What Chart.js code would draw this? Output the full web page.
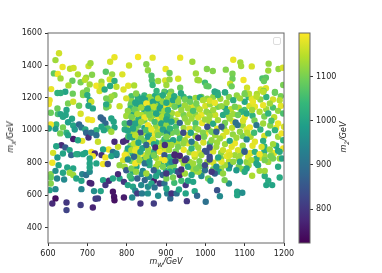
<!DOCTYPE html>
<html lang="en">
<head>
  <meta charset="UTF-8" />
  <title>Scatter mW mX</title>
  <style>
    body { margin: 0; background: #fff; font-family: 'DejaVu Sans', sans-serif; color: #222; }
    #wrap { position: relative; width: 382px; height: 273px; overflow: hidden; }
    canvas { position: absolute; left: 0; top: 0; }
    .lab { position: absolute; font-size: 8px; font-style: italic; line-height: 10px; white-space: nowrap; }
    .lab sub { font-size: 6px; line-height: 0; }
    #xlab { left: 166px; top: 257px; transform: translateX(-50%); }
    #ylab { left: 11px; top: 137px; transform: translate(-50%, -50%) rotate(-90deg); }
    #clab { left: 344px; top: 137px; transform: translate(-50%, -50%) rotate(-90deg); }
    #legendBox { position: absolute; left: 273px; top: 37px; width: 6px; height: 6px; border: 1px solid #ddd; border-radius: 2px; background: #fff; }
  </style>
</head>
<body>
  <div id="wrap">
    <canvas id="plot" width="382" height="273"></canvas>
    <canvas id="bar" width="382" height="273"></canvas>
    <div id="legendBox"></div>
    <div class="lab" id="xlab">m<sub>W</sub>/GeV</div>
    <div class="lab" id="ylab">m<sub>X</sub>/GeV</div>
    <div class="lab" id="clab">m<sub>2</sub>/GeV</div>
  </div>
  <script src="https://cdn.jsdelivr.net/npm/chart.js"></script>
  <script>
    const xTicks = [600, 700, 800, 900, 1000, 1100, 1200];
    const yTicks = [400, 600, 800, 1000, 1200, 1400, 1600];
    const cTicks = [800, 900, 1000, 1100];

    // one line per region
    const mW = [
      812,828,845,858,872,885,812,828,848,862,875,888,905,810,826,842,858,875,888,905,
      810,825,845,862,878,892,908,805,818,838,852,868,882,898,815,830,845,862,880,893,905,
      800,815,830,845,858,875,888,905,795,812,825,845,858,872,888,905,815,830,845,860,875,890,905,810,825,840,855,870,885,900,
      800,815,828,845,860,875,890,905,812,828,842,858,875,888,905,825,815,838,855,880,900,915,
      915,930,945,960,975,990,1005,1020,1038,1060,1080,1110,1118,1140,1155,1172,1192,
      915,932,948,965,980,1000,1012,1032,1050,1065,1085,1100,1112,1155,1172,1192,
      915,930,945,960,975,990,1010,1025,1045,1060,1100,1120,1150,1175,
      912,925,955,975,992,1010,1020,1050,1070,1095,1125,1165,1180,
      925,945,960,975,1008,1030,1048,1068,1105,1140,
      915,935,955,975,1000,1025,1045,1070,1095,1115,1150,1185,
      905,928,955,975,995,1012,1030,1050,1075,1095,1120,1150,1180,
      908,925,945,960,985,1020,1040,1060,1090,1115,1150,1175,
      910,925,940,960,985,1005,1020,1040,1060,1085,1105,1140,1160,
      905,920,945,965,985,1000,1020,1040,1060,1085,1110,
      910,925,970,990,1035,1095,
      628,619,637,656,665,703,708,758,769,829,866,806,850,854,899,615,625,632,676,697,712,747,763,789,757,769,662,683,694,706,652,608,723,736,736,731,744,758,774,792,804,819,863,864,866,880,898,901,876,896,644,632,624,663,689,699,
      936,967,909,931,909,976,1004,1019,1052,1071,1089,1091,1118,1161,1160,1186,1197,1069,1069,1097,980,984,999,1003,1008,1063,1067,1145,1154,1149,1198,936,1106,1141,1154,1148,1177,909,938,1024,1031,1050,1101,1111,1131,913,
      689,700,706,710,703,714,683,679,604,602,607,624,647,651,664,625,632,638,645,661,651,664,621,619,607,602,638,631,647,668,679,685,695,697,703,687,664,676,651,702,712,723,734,740,746,761,767,769,752,761,736,742,710,727,723,754,748,782,757,769,761,748,799,748,
      634,621,644,613,638,624,655,659,676,695,710,719,714,754,740,778,765,774,799,803,791,799,769,804,
      824,841,822,833,850,867,880,892,892,901,803,820,837,854,869,884,896,799,812,827,846,858,875,890,903,795,808,822,837,854,871,888,901,803,816,835,850,863,878,892,903,808,822,837,854,867,880,896,819,830,850,869,873,888,903,812,822,835,854,869,884,896,819,850,803,
      910,921,986,1024,1050,1032,1100,1130,1147,1177,1189,1164,1100,1088,1071,1054,1121,1126,1147,918,901,931,948,961,977,994,1011,1024,1041,1075,1092,1105,1185,1160,1198,1138,1119,
      905,922,939,956,969,986,1003,1020,1054,1071,1083,901,914,935,948,965,982,999,1011,1032,1041,1005,1077,1062,1096,1113,1130,1147,1168,1185,1200,
      910,927,944,963,982,994,1016,1028,1054,1082,1088,1107,1124,1160,1177,1194,901,918,935,948,965,982,997,1016,1037,1062,1079,1105,1126,1147,1172,1198,
      897,914,931,944,965,982,999,1011,1028,1045,1067,1083,1099,1126,1143,1164,1185,1198,922,935,952,973,990,1011,1032,1054,1075,1109,1130,1151,1168,1189,
      611,619,647,647,683,714,727,721,765,768,769,793,835,869,
      607,607,604,619,638,623,641,649,664,655,664,672,685,687,697,706,706,710,685,717,734,740,746,755,765,782,778,793,803,816,812,822,827,839,814,854,880,903,837,854,869,884,896,827,846,858,875,892,901,
      611,627,619,607,672,689,706,706,706,723,740,752,736,746,761,774,795,791,803,782,795,799,812,822,833,850,846,858,869,880,896,892,869,841,824,850,808,863,871,
      901,911,914,927,933,950,950,953,973,979,1001,1030,1037,1081,1081,1094,1060,956,969,921,939,965,990,1007,1013,1049,1119,1151,1155,1160,1170,1189,1185,1134,1151,1138,1105,1079,1062,1100,1045,1024,1016,999,982,935,931,918,910,901,948,977,956,939,1028,1050,1071,1088,1117,1130,1151,1172,1195,914,924,948,969,999,1041,1062,1100,1138,1166,1189,1011,1003,922,972,1033
    ];
    const mX = [
      1210,1208,1215,1205,1212,1210,1180,1185,1185,1190,1170,1190,1195,1158,1150,1160,1162,1150,1155,1160,
      1135,1125,1122,1118,1120,1110,1105,1105,1100,1095,1105,1095,1085,1075,1068,1070,1060,1072,1065,1060,1050,
      1030,1025,1030,1015,1018,1025,1020,1012,1005,990,995,985,978,975,985,970,955,945,935,930,925,925,930,905,900,890,885,870,885,880,
      865,855,845,845,840,830,825,825,810,800,815,785,775,790,790,775,745,730,715,740,750,765,
      1185,1195,1205,1195,1200,1205,1195,1205,1195,1205,1215,1205,1195,1190,1205,1190,1210,
      1160,1155,1155,1150,1140,1150,1160,1145,1140,1130,1140,1125,1150,1130,1140,1150,
      1105,1100,1095,1100,1098,1095,1105,1095,1095,1090,1080,1090,1085,1080,
      1075,1060,1050,1045,1045,1055,1040,1045,1055,1030,1060,1030,1015,
      1020,1015,1010,1015,1005,1010,1010,1015,1005,1005,
      985,975,970,965,975,970,965,975,965,960,965,960,
      925,925,920,915,925,920,925,915,920,905,905,900,905,
      880,870,880,865,860,870,860,865,855,860,870,860,
      835,825,820,805,810,805,800,825,810,825,805,830,805,
      790,785,795,770,775,770,760,765,765,775,785,
      765,750,745,735,745,760,
      1475,1433,1390,1380,1384,1396,1413,1423,1450,1452,1448,1400,1407,1370,1378,1351,1347,1320,1345,1324,1343,1361,1345,1345,1314,1304,1306,1296,1312,1283,1277,1254,1275,1300,1275,1242,1252,1273,1269,1252,1275,1277,1337,1308,1279,1304,1308,1279,1242,1238,1238,1230,1230,1226,1232,1248,
      1448,1423,1353,1318,1314,1351,1378,1366,1374,1435,1419,1396,1394,1411,1368,1378,1386,1349,1318,1310,1310,1308,1294,1273,1271,1287,1271,1320,1324,1304,1279,1263,1263,1252,1259,1242,1236,1232,1228,1238,1232,1234,1228,1226,1224,1238,
      1217,1217,1186,1176,1151,1135,1102,1151,1186,1162,1108,1135,1125,1166,1176,1100,1100,1083,1094,1071,1050,1030,1036,1009,1036,1011,1018,981,985,1005,1036,1018,1005,985,956,935,946,939,970,1067,1063,1001,1079,1067,1042,1073,1053,1018,1011,991,1022,1001,985,929,970,1149,1141,1149,1186,1217,1207,1197,1197,1160,
      908,902,894,861,857,832,878,847,853,861,867,857,841,882,882,898,867,847,847,888,929,939,929,960,
      1227,1197,1170,1166,1166,1176,1197,1217,1176,1145,1120,1129,1141,1135,1145,1135,1120,1088,1083,1100,1079,1094,1104,1083,1088,1042,1046,1042,1052,1032,1052,1042,1032,997,1011,985,1001,1005,991,1005,985,960,970,950,960,944,970,944,919,923,909,915,894,898,909,878,874,867,861,847,867,847,837,826,826,
      1217,1211,1203,1238,1234,1217,1223,1207,1238,1232,1186,1166,1176,1197,1186,1170,1176,1145,1155,1186,1170,1176,1190,1176,1166,1186,1182,1170,1149,1145,1114,1104,1120,1104,1104,1114,1125,
      1125,1145,1125,1135,1120,1129,1114,1125,1114,1100,1094,1067,1053,1046,1073,1073,1079,1067,1088,1063,1022,1022,1048,1073,1059,1018,1032,1042,1059,1042,1022,
      1011,991,985,985,1005,985,991,991,991,1032,991,985,985,981,1001,981,960,939,950,939,929,954,960,939,950,935,954,944,929,935,915,939,
      909,909,898,919,888,894,872,894,898,878,898,878,874,867,898,882,874,888,847,843,826,837,847,837,826,841,847,837,826,841,847,826,
      549,580,555,508,539,524,580,578,621,590,569,586,549,549,
      730,672,631,637,738,703,697,771,765,738,724,703,689,730,724,744,676,672,637,625,625,693,662,689,703,703,730,682,662,652,703,627,611,611,586,611,596,611,662,652,689,672,672,703,693,713,718,724,703,
      800,785,750,709,853,853,826,796,771,796,792,792,847,833,841,857,847,816,820,785,775,754,765,796,816,833,796,806,847,796,816,775,754,750,744,734,718,672,648,
      641,580,611,611,635,662,611,563,625,596,559,631,594,621,600,615,672,689,682,676,689,724,718,703,689,693,720,718,662,689,662,709,775,785,750,750,765,754,785,744,734,734,744,754,744,724,744,709,744,734,734,765,775,759,775,785,806,806,816,796,816,826,826,806,810,816,796,785,806,847,868,853,841,868,820,868,851,853,833
    ];
    const m2 = [
      1060,1010,1030,1130,1010,1040,1110,1020,1000,1120,1010,1030,1130,1090,1000,1010,1140,1110,1010,1020,
      1040,1110,1020,1090,1110,1130,1160,1100,1010,1140,1100,1130,1010,1100,1130,1020,1090,1120,1185,1120,1020,
      1130,1100,1090,1000,1140,1120,1170,1100,1010,1130,1100,1130,1020,1185,1090,1130,1000,1130,1090,1185,1040,1120,1130,1100,1180,1000,1130,1020,1100,1170,
      1120,1020,1130,1180,1000,1130,1190,1100,1090,1190,1000,1010,1130,1000,1040,1000,1010,950,960,1000,1000,1030,
      1100,1130,1040,1010,1130,1090,1120,1120,1130,1110,1120,1030,1180,1120,1030,1170,1100,
      1140,1010,1130,1170,1120,1170,1130,1100,1000,1150,1140,1060,1170,1130,1060,1180,
      1130,1160,1100,1140,1120,1185,1100,1160,1010,1130,1185,1030,1100,1150,
      1100,1130,1130,1060,1185,1130,1010,1100,1185,1130,1100,1110,1180,
      1060,1130,1180,1100,1130,1170,1090,1150,1180,1030,
      1100,1130,1170,1130,1190,1130,1170,1120,1100,1140,1170,1130,
      1020,1140,1180,1130,1170,1060,1130,1130,1185,1130,1180,1030,1010,
      1130,1100,1185,1130,1170,1170,1120,1185,1130,1180,1020,1185,
      1030,1090,1130,1130,1100,1130,1170,1100,1150,1130,1120,1170,1130,
      1010,1100,1130,1130,1090,1130,1100,1130,1000,1100,1130,
      1100,1000,1130,1100,1000,1110,
      1165,1130,1185,1150,1165,1160,1130,1170,1185,1195,1180,1165,1110,1120,1185,1080,1190,1130,1140,1130,1110,1070,1120,1175,1170,1020,1085,1100,1150,1130,1140,1185,1190,1130,1165,1170,1010,1010,1150,1175,1180,1140,1060,1060,1040,1130,1170,1130,1040,1070,1000,1020,1030,1090,1110,1100,
      1185,1130,1090,1170,1120,1130,1110,1110,1110,1185,1130,1130,1170,1120,1130,1120,1170,1100,1090,1190,1130,1130,1050,1080,1075,1160,1090,1060,1075,1085,1100,1090,1165,1170,1175,1100,1090,1020,1010,1010,1020,1010,1100,1150,1140,1100,
      1110,1015,1000,1160,1000,1000,1170,1090,1185,1190,1090,1090,1000,1100,1165,1060,1000,1000,1000,1000,990,1000,1040,980,1190,1000,1100,1100,1030,980,880,910,1010,880,790,1180,760,1000,1000,1185,1190,1030,880,870,880,1000,1000,1000,1060,1130,1000,1000,900,1160,900,1140,1090,1160,1100,1110,1130,1100,1170,1010,
      780,1000,860,1170,1000,980,1000,880,990,1000,1190,780,1190,1190,1000,1160,900,900,1175,1000,780,780,780,1060,
      1110,1000,1000,1000,1190,1000,1140,1010,1120,1190,1120,1090,1130,1000,1150,1000,1130,1130,1100,1140,1185,1100,1000,1140,1030,1060,880,1000,1130,1190,1060,1000,1120,1000,1000,840,1060,1185,1140,1000,960,1000,1150,1100,980,1160,1100,1050,1150,1000,880,1000,780,1150,1130,1140,1180,1000,1120,1000,1190,850,880,1040,1130,
      1130,1010,1010,1010,1010,1020,1100,1150,1150,1090,1150,1130,1010,1130,1020,1130,1185,1180,1185,1000,1010,1120,1100,1090,1100,1140,1170,1185,1120,1100,1030,1010,1120,1030,1060,1140,1130,
      1030,1090,1120,1130,1060,1150,1120,1130,1020,1130,1090,1000,1000,880,1120,1130,1170,1130,1130,1130,860,840,900,1130,1170,1185,910,1130,1060,1185,1170,
      1030,1090,830,1000,1130,1110,1100,870,1170,900,1120,1150,1050,1030,1030,1190,1100,1000,1040,1130,920,790,1100,1120,1130,1000,1130,950,1180,1020,1130,1030,
      790,1130,1100,1120,1040,1130,860,830,1130,1160,1180,1170,1020,1030,1170,1130,1000,1190,760,770,850,1150,1130,830,1130,1180,1130,1170,1020,1130,1130,1130,
      780,740,800,820,810,770,810,810,750,750,745,760,790,810,
      1110,1110,1000,950,1000,940,950,1000,1000,1130,1130,1000,1000,940,900,950,770,770,940,960,1000,1000,800,780,1000,1000,780,800,1000,1000,1020,950,810,920,950,960,960,930,950,950,760,800,900,870,880,950,1000,880,1100,
      1190,1000,960,1090,1010,1000,1000,1000,1000,1000,1190,820,790,1190,1000,960,1190,1170,950,1120,1130,860,1100,1190,1130,1130,900,1000,1100,1140,1190,1100,870,950,1120,1130,1050,1000,900,
      1000,880,790,900,1000,800,1000,800,1000,880,900,840,950,1000,1000,960,960,1000,1000,1050,1050,1000,950,1100,1000,1100,1140,1020,1000,1010,1000,1010,1010,1000,1130,1130,1000,980,950,1010,1120,860,800,900,1130,770,830,1100,1000,800,1130,1100,1000,790,960,1130,1120,1000,1140,1000,1100,1100,1000,950,800,800,1130,830,1180,1170,860,1190,1100,1010,830,840,770,1180,1000
    ];

    // viridis colormap stops, the colorbar and points both use it
    const viridis = ['#440154', '#482878', '#3e4989', '#31688e', '#26828e', '#1f9e89', '#35b779', '#6ece58', '#b5de2b', '#fde725'];
    const cMin = 723;
    const cMax = 1199;

    function colorFor(v) {
      const t = Math.min(1, Math.max(0, (v - cMin) / (cMax - cMin))) * (viridis.length - 1);
      const i = Math.min(viridis.length - 2, Math.floor(t));
      const a = viridis[i], b = viridis[i + 1], f = t - i;
      const mix = (s) => Math.round(parseInt(a.substr(s, 2), 16) * (1 - f) + parseInt(b.substr(s, 2), 16) * f);
      return `rgb(${mix(1)},${mix(3)},${mix(5)})`;
    }

    const frame = {
      id: 'frame',
      afterDraw(chart) {
        const { ctx, chartArea: a } = chart;
        ctx.save();
        ctx.strokeStyle = '#666';
        ctx.lineWidth = 1;
        ctx.strokeRect(a.left, a.top, a.right - a.left, a.bottom - a.top);
        ctx.restore();
      }
    };

    const tickFont = { family: "'DejaVu Sans'", size: 8 };
    const plain = (v) => String(v);

    new Chart(document.getElementById('plot'), {
      type: 'scatter',
      data: {
        datasets: [{
          data: mW.map((x, i) => ({ x: x, y: mX[i] })),
          backgroundColor: m2.map(colorFor),
          borderWidth: 0,
          pointRadius: 3.2,
          clip: 0
        }]
      },
      options: {
        responsive: false,
        animation: false,
        layout: { padding: { left: 0, top: 33, right: 98, bottom: 0 } },
        plugins: { legend: { display: false }, tooltip: { enabled: false } },
        scales: {
          x: {
            min: 600, max: 1200,
            afterBuildTicks: (s) => { s.ticks = xTicks.map((v) => ({ value: v })); },
            afterFit: (s) => { s.height = 30; },
            border: { display: false },
            grid: { drawOnChartArea: false, tickLength: 3, tickColor: '#333' },
            ticks: { font: tickFont, color: '#222', maxRotation: 0, padding: 3, callback: plain }
          },
          y: {
            min: 305, max: 1600,
            afterBuildTicks: (s) => { s.ticks = yTicks.map((v) => ({ value: v })); },
            afterFit: (s) => { s.width = 48; },
            border: { display: false },
            grid: { drawOnChartArea: false, tickLength: 3, tickColor: '#333' },
            ticks: { font: tickFont, color: '#222', padding: 3, callback: plain }
          }
        }
      },
      plugins: [frame]
    });

    new Chart(document.getElementById('bar'), {
      type: 'bar',
      data: {
        labels: ['m2'],
        datasets: [{
          data: [[cMin, cMax]],
          barPercentage: 1,
          categoryPercentage: 1,
          backgroundColor: (c) => {
            const a = c.chart.chartArea;
            if (!a) return viridis[0];
            const g = c.chart.ctx.createLinearGradient(0, a.bottom, 0, a.top);
            viridis.forEach((col, i) => g.addColorStop(i / (viridis.length - 1), col));
            return g;
          }
        }]
      },
      options: {
        responsive: false,
        animation: false,
        layout: { padding: { left: 299, top: 33, right: 0, bottom: 30 } },
        plugins: { legend: { display: false }, tooltip: { enabled: false } },
        scales: {
          x: { display: false },
          y: {
            position: 'right',
            min: cMin, max: cMax,
            afterBuildTicks: (s) => { s.ticks = cTicks.map((v) => ({ value: v })); },
            afterFit: (s) => { s.width = 72; },
            border: { display: false },
            grid: { drawOnChartArea: false, tickLength: 3, tickColor: '#333' },
            ticks: { font: tickFont, color: '#222', padding: 3, callback: plain }
          }
        }
      },
      plugins: [frame]
    });
  </script>
</body>
</html>
